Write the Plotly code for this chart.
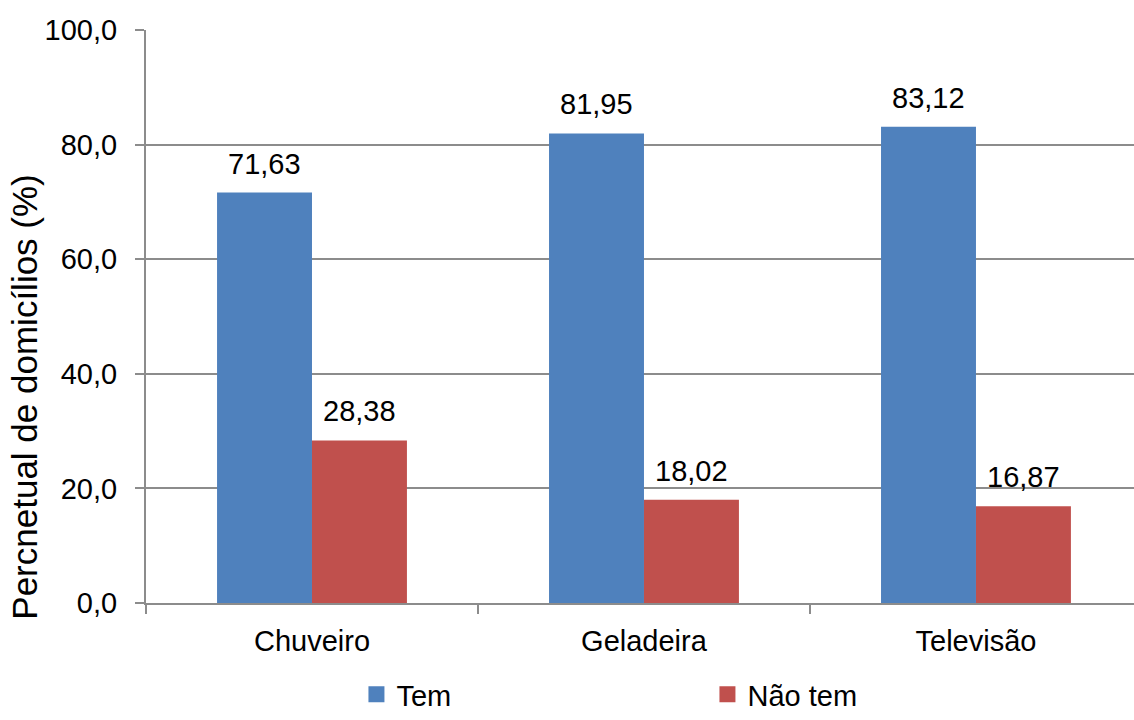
import plotly.graph_objects as go

categories = ["Chuveiro", "Geladeira", "Televisão"]
tem = [71.63, 81.95, 83.12]
nao_tem = [28.38, 18.02, 16.87]
series_names = ["Tem", "Não tem"]
y_ticks = [0, 20, 40, 60, 80, 100]
y_tick_labels = ["0,0", "20,0", "40,0", "60,0", "80,0", "100,0"]
y_title = "Percnetual de domicílios (%)"

BLUE = "#4F81BD"
RED = "#C0504D"
GRID = "#8C8C8C"
FONT = "Liberation Sans, Arial, sans-serif"
FS = 29

fig = go.Figure()
for name, vals, color in [(series_names[0], tem, BLUE), (series_names[1], nao_tem, RED)]:
    fig.add_trace(go.Bar(x=categories, y=vals, name=name, marker_color=color,
                         marker_line_width=0, showlegend=False))

# legend proxies with larger square swatches
for name, color in [(series_names[0], BLUE), (series_names[1], RED)]:
    fig.add_trace(go.Scatter(x=[None], y=[None], mode="markers", name=name,
                             marker=dict(symbol="square", size=16, color=color)))

# value labels above each bar
offset = 0.143
for i, (a, b) in enumerate(zip(tem, nao_tem)):
    for x, v in [(i - offset, a), (i + offset, b)]:
        fig.add_annotation(x=x, y=v, text=f"{v:.2f}".replace(".", ","),
                           showarrow=False, yanchor="middle", yshift=29,
                           font=dict(size=FS, color="black", family=FONT))

# rotated y-axis title, sitting slightly below the plot's vertical centre
fig.add_annotation(xref="paper", yref="paper", x=-0.1225, y=0.36,
                   xanchor="center", yanchor="middle", textangle=-90,
                   text=y_title, showarrow=False,
                   font=dict(size=35, color="black", family=FONT))

fig.update_layout(
    width=1134, height=720,
    margin=dict(l=146, r=0, t=30, b=117),
    paper_bgcolor="white", plot_bgcolor="white",
    barmode="group", bargap=0.428, bargroupgap=0,
    font=dict(family=FONT, size=FS, color="black"),
    legend=dict(orientation="h", x=0.213, xanchor="left",
                yref="container", y=-0.012, yanchor="bottom",
                entrywidth=306, font=dict(size=FS), itemwidth=30),
)
fig.update_xaxes(
    range=[-0.5, 2.476], showline=True, linecolor=GRID, linewidth=2,
    ticks="outside", tickson="boundaries", ticklen=9, tickcolor=GRID, tickwidth=2,
    showgrid=False, tickfont=dict(size=FS), ticklabelstandoff=11,
)
fig.update_yaxes(
    range=[0, 100], tickvals=y_ticks, ticktext=y_tick_labels,
    showline=True, linecolor=GRID, linewidth=2,
    ticks="outside", ticklen=9, tickcolor=GRID, tickwidth=2,
    showgrid=True, gridcolor=GRID, gridwidth=2, zeroline=False,
    ticklabelstandoff=12, tickfont=dict(size=FS),
)

fig.write_html("out.html")
